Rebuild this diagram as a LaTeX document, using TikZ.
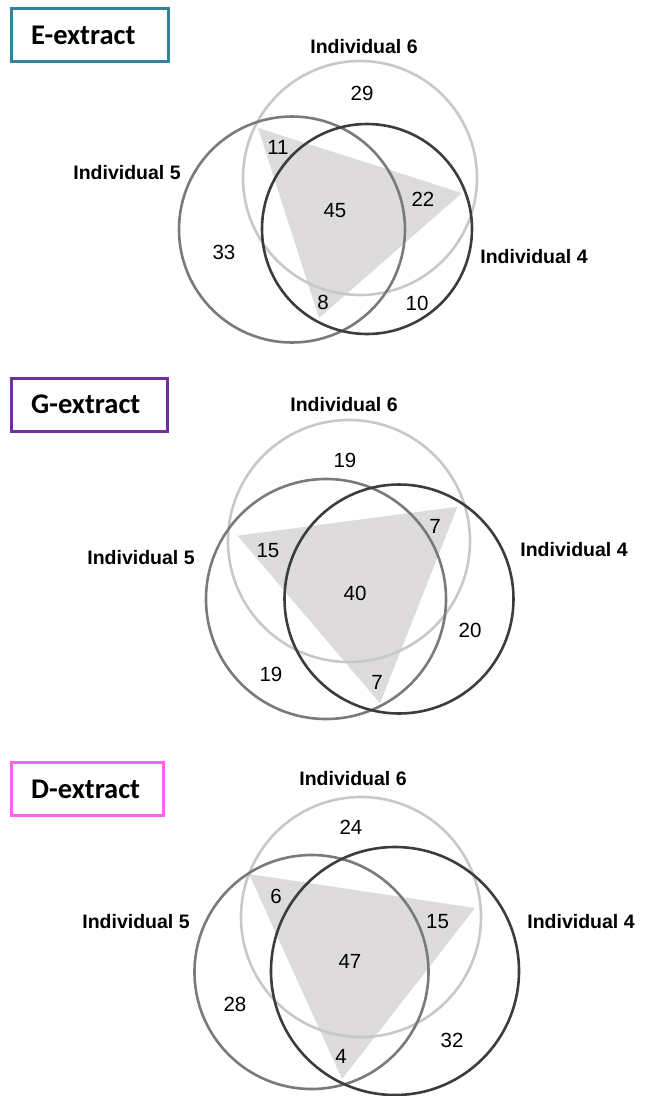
\documentclass[tikz,border=0pt]{standalone}
\usepackage{fontspec}
\setmainfont{Liberation Sans}
\newfontfamily\titlefont{Carlito}
\definecolor{cE}{HTML}{31849B}
\definecolor{cG}{HTML}{7030A0}
\definecolor{cD}{HTML}{F466F0}
\definecolor{gSix}{HTML}{C8C8C8}
\definecolor{gFive}{HTML}{7A7A7A}
\definecolor{gFour}{HTML}{3C3C3C}
\definecolor{triFill}{HTML}{DDDBDC}
\tikzset{
  ring/.style={circle, draw, line width=2.6pt, inner sep=0pt, minimum size=#1},
  titlebox/.style={draw, line width=3pt},
  titletext/.style={anchor=west, inner sep=0pt, font=\titlefont\bfseries\fontsize{28.5}{31}\selectfont},
  indlabel/.style={inner sep=0pt, font=\bfseries\fontsize{19.5}{22}\selectfont},
  num/.style={inner sep=0pt, font=\fontsize{20.5}{22}\selectfont},
}
\begin{document}
\begin{tikzpicture}[x=1pt,y=-1pt]
\useasboundingbox (0,0) rectangle (649,1096);
% ===== E-extract =====
\draw[titlebox, cE] (11.7,8.3) rectangle (168.5,61);
\node[titletext] (tE) at (31,35) {E-extract};
\fill[triFill] (258,128) -- (462,193) -- (319,318) -- cycle;
\node[ring=234pt, draw=gSix] (e6) at (360,178) {};
\node[ring=226pt, draw=gFive] (e5) at (292,229.5) {};
\node[ring=210pt, draw=gFour] (e4) at (367,229) {};
\node[indlabel] (e6l) at (364,47) {Individual 6};
\node[indlabel] (e5l) at (127,173) {Individual 5};
\node[indlabel] (e4l) at (534,257) {Individual 4};
\node[num] (en1) at (362,93) {29};
\node[num] (en2) at (278,147) {11};
\node[num] (en3) at (423,199) {22};
\node[num] (en4) at (335,211) {45};
\node[num] (en5) at (224,252) {33};
\node[num] (en6) at (323,302) {8};
\node[num] (en7) at (417,303) {10};
% ===== G-extract =====
\draw[titlebox, cG] (11.7,378.3) rectangle (167,431);
\node[titletext] (tG) at (31,404) {G-extract};
\fill[triFill] (237.5,535.7) -- (457.5,506.7) -- (380,703.3) -- cycle;
\node[ring=242pt, draw=gSix] (g6) at (349,541) {};
\node[ring=240pt, draw=gFive] (g5) at (326,599) {};
\node[ring=229pt, draw=gFour] (g4) at (399,599) {};
\node[indlabel] (g6l) at (344,405) {Individual 6};
\node[indlabel] (g5l) at (141,558) {Individual 5};
\node[indlabel] (g4l) at (574,550) {Individual 4};
\node[num] (gn1) at (345,460) {19};
\node[num] (gn2) at (435,526) {7};
\node[num] (gn3) at (268,551) {15};
\node[num] (gn4) at (355,593) {40};
\node[num] (gn5) at (470,630) {20};
\node[num] (gn6) at (271,674) {19};
\node[num] (gn7) at (377,682) {7};
% ===== D-extract =====
\draw[titlebox, cD] (11.7,762.7) rectangle (163,815);
\node[titletext] (tD) at (31,789) {D-extract};
\fill[triFill] (249,874) -- (475,908) -- (342,1079) -- cycle;
\node[ring=240pt, draw=gSix] (d6) at (361,917) {};
\node[ring=234pt, draw=gFive] (d5) at (311.5,972) {};
\node[ring=248pt, draw=gFour] (d4) at (395,971) {};
\node[indlabel] (d6l) at (353,779) {Individual 6};
\node[indlabel] (d5l) at (136,922) {Individual 5};
\node[indlabel] (d4l) at (581,922) {Individual 4};
\node[num] (dn1) at (351,827) {24};
\node[num] (dn2) at (276,896) {6};
\node[num] (dn3) at (437.5,922) {15};
\node[num] (dn4) at (350,961) {47};
\node[num] (dn5) at (235,1004) {28};
\node[num] (dn6) at (452,1040) {32};
\node[num] (dn7) at (341,1056) {4};
\end{tikzpicture}
\end{document}
